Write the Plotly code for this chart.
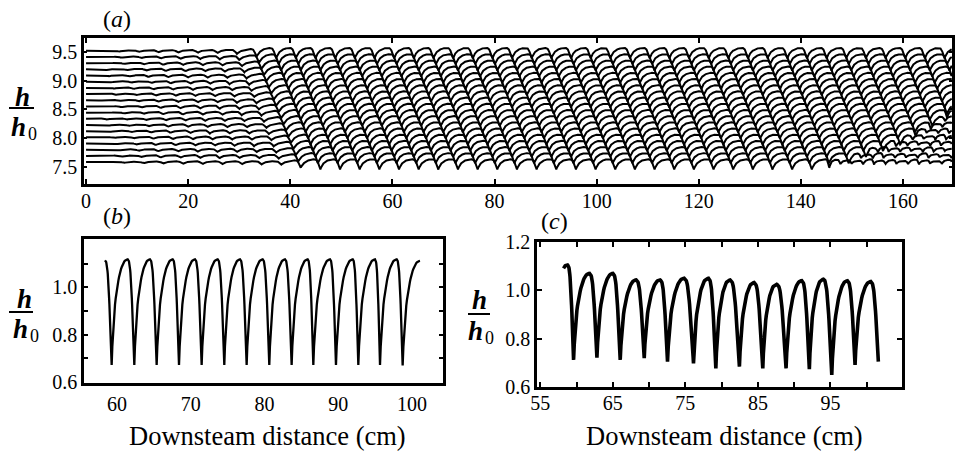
import numpy as np
import plotly.graph_objects as go

W, H = 955, 455

# ---------------- values ----------------
# panel (a): stacked profiles (level of each profile, h/h0 scale)
A_LEVEL = [9.520, 9.413, 9.305, 9.198, 9.090, 8.983, 8.875, 8.768, 8.660, 8.553,
           8.445, 8.338, 8.230, 8.123, 8.015, 7.908, 7.800, 7.693, 7.585]
# x where each profile reaches full-amplitude waves
A_FRONT_X = [35.0, 35.5, 36.0, 36.5, 37.0, 37.5, 38.0, 38.5, 39.0, 39.5,
             40.0, 40.5, 41.0, 41.5, 42.0, 42.5, 43.0, 43.5, 44.0]
# x where the lowest profiles break up (None = no break-up in view)
A_BREAK_X = [None, None, None, None, None, None, None, None, None, None,
             168.0, 166.5, 164.5, 162.0, 160.0, 157.0, 153.0, 150.0, 145.0]
A_TROUGH0 = 2.6          # cm, first trough position of the top profile
A_SHIFT = 0.48           # cm, downstream shift of the wave train per profile
A_WAVELENGTH = 3.85      # cm
A_RIPPLE_X = [0, 4, 12, 22]               # upstream ripple growth (x, cm)
A_RIPPLE_AMP = [0.0, 0.015, 0.035, 0.055]  # crest-to-trough of the ripples
A_BIG_AMP = 0.18         # crest-to-trough of the developed waves
A_BREAK_AMP = 0.075
A_BREAK_WAVELENGTH = 2.2
A_BREAK_MULT = [1.0, 0.55, 1.2, 0.8, 0.45, 1.1, 0.9, 0.6, 1.3, 0.7]

# wave shape: rise trough->crest and fall crest->trough
RISE_T = [0, 0.03, 0.10, 0.20, 0.31, 0.52, 0.73, 0.88, 1.0]
RISE_V = [0, 0.14, 0.36, 0.56, 0.71, 0.88, 0.97, 0.995, 1.0]
FALL_T = [0, 0.15, 0.30, 0.45, 0.60, 0.72, 0.83, 0.92, 1.0]
FALL_V = [1, 0.99, 0.95, 0.85, 0.67, 0.50, 0.32, 0.15, 0]

# panel (b)
B_PEAK_X = [58.37, 61.45, 64.47, 67.55, 70.58, 73.65, 76.68, 79.75, 82.78, 85.85,
            88.88, 91.96, 94.98, 97.92, 101.08]
B_PEAK_Y = [1.114, 1.118, 1.118, 1.118, 1.118, 1.118, 1.118, 1.118, 1.118, 1.118,
            1.118, 1.118, 1.118, 1.118, 1.112]
B_TROUGH_X = [59.28, 62.35, 65.38, 68.41, 71.48, 74.55, 77.58, 80.65, 83.68, 86.62,
              89.69, 92.72, 95.66, 98.73]
B_TROUGH_Y = [0.672, 0.672, 0.672, 0.672, 0.672, 0.672, 0.672, 0.672, 0.672, 0.672,
              0.672, 0.672, 0.672, 0.670]

# panel (c)
C_START = (58.21, 1.091)
C_PEAK_X = [58.76, 61.79, 65.01, 68.22, 71.53, 74.83, 78.18, 81.17, 84.48, 87.60,
            91.05, 94.02, 97.33, 100.55]
C_PEAK_Y = [1.105, 1.070, 1.070, 1.043, 1.043, 1.050, 1.050, 1.043, 1.032, 1.025,
            1.040, 1.046, 1.040, 1.036]
C_TROUGH_X = [59.59, 62.81, 66.02, 69.33, 72.54, 76.12, 79.20, 82.45, 85.67, 88.88,
              92.09, 95.18, 98.39, 101.60]
C_TROUGH_Y = [0.712, 0.721, 0.712, 0.719, 0.705, 0.698, 0.677, 0.684, 0.677, 0.677,
              0.674, 0.650, 0.691, 0.705]

A_XTICKS = [0, 20, 40, 60, 80, 100, 120, 140, 160]
A_YTICKS = [7.5, 8.0, 8.5, 9.0, 9.5]
B_XTICKS = [60, 70, 80, 90, 100]
B_YTICKS = [0.6, 0.8, 1.0]
B_YMINOR = [0.7, 0.9, 1.1]
C_XTICKS = [55, 65, 75, 85, 95, 105]
C_XMINOR = [60, 70, 80, 90, 100]
C_YTICKS = [0.6, 0.8, 1.0, 1.2]
XTITLE = "Downsteam distance (cm)"

# ---------------- helpers ----------------
TPL_PHASE = [0.7 * t for t in RISE_T] + [0.7 + 0.3 * t for t in FALL_T[1:]]
TPL_VALUE = RISE_V + FALL_V[1:]
TPL_MEAN = 0.73


def tpl(frac):
    return np.interp(frac, TPL_PHASE, TPL_VALUE)


def seg(x0, x1, ylo, yhi, T, V):
    t = np.linspace(0, 1, 25)
    v = np.interp(t, T, V)
    return x0 + t * (x1 - x0), ylo + v * (yhi - ylo)


def train(nodes, first_is_peak):
    xs, ys = [], []
    is_peak = first_is_peak
    for (x0, y0), (x1, y1) in zip(nodes[:-1], nodes[1:]):
        if is_peak:
            sx, sy = seg(x0, x1, y1, y0, FALL_T, FALL_V)
        else:
            sx, sy = seg(x0, x1, y0, y1, RISE_T, RISE_V)
        xs.extend(sx.tolist()); ys.extend(sy.tolist())
        is_peak = not is_peak
    return xs, ys


def pxx(x):
    return x / W


def pyy(y):
    return 1 - y / H


FONT = "Liberation Serif"
fig = go.Figure()

# ---------------- panel (a) ----------------
xa = np.arange(0.0, 169.6, 0.05)
ax_all, ay_all = [], []
for k, lev in enumerate(A_LEVEL):
    front = A_FRONT_X[k]
    amp = np.interp(xa, A_RIPPLE_X + [front - 6, front - 3, front],
                    A_RIPPLE_AMP + [0.065, 0.115, A_BIG_AMP])
    lam = np.full_like(xa, A_WAVELENGTH)
    bx = A_BREAK_X[k]
    if bx is not None:
        lam[xa > bx] = A_BREAK_WAVELENGTH
    phase = np.concatenate([[0.0], np.cumsum(np.diff(xa) / lam[1:])])
    phase -= (A_TROUGH0 + A_SHIFT * k) / A_WAVELENGTH
    frac = np.mod(phase, 1.0)
    y = lev + amp * (tpl(frac) - TPL_MEAN)
    if bx is not None:
        cyc = np.floor(phase).astype(int)
        mult = np.array(A_BREAK_MULT)[np.mod(cyc, len(A_BREAK_MULT))]
        yb = lev + A_BREAK_AMP * mult * (tpl(frac) - 0.5)
        w = np.clip((xa - bx) / 2.0, 0, 1)
        y = (1 - w) * y + w * yb
    ax_all.extend(xa.tolist() + [None])
    ay_all.extend(y.tolist() + [None])

fig.add_trace(go.Scatter(x=ax_all, y=ay_all, mode="lines",
                         line=dict(color="black", width=2),
                         xaxis="x", yaxis="y", hoverinfo="skip", showlegend=False))

# ---------------- panel (b) ----------------
b_nodes = []
for i in range(len(B_TROUGH_X)):
    b_nodes.append((B_PEAK_X[i], B_PEAK_Y[i]))
    b_nodes.append((B_TROUGH_X[i], B_TROUGH_Y[i]))
b_nodes.append((B_PEAK_X[-1], B_PEAK_Y[-1]))
bx_, by_ = train(b_nodes, True)
fig.add_trace(go.Scatter(x=bx_, y=by_, mode="lines",
                         line=dict(color="black", width=2.3),
                         xaxis="x2", yaxis="y2", hoverinfo="skip", showlegend=False))

# ---------------- panel (c) ----------------
c_nodes = [C_START]
for i in range(len(C_PEAK_X)):
    c_nodes.append((C_PEAK_X[i], C_PEAK_Y[i]))
    c_nodes.append((C_TROUGH_X[i], C_TROUGH_Y[i]))
cx_, cy_ = train(c_nodes, False)
fig.add_trace(go.Scatter(x=cx_, y=cy_, mode="lines",
                         line=dict(color="black", width=3.6),
                         xaxis="x3", yaxis="y3", hoverinfo="skip", showlegend=False))

tickfont = dict(family=FONT, size=20, color="black")
common = dict(showline=True, linecolor="black", mirror="allticks", showgrid=False,
              zeroline=False, ticks="inside", tickcolor="black", tickfont=tickfont,
              automargin=False, linewidth=2.5, tickwidth=1.5)

fig.update_layout(
    width=W, height=H, autosize=False,
    margin=dict(l=0, r=0, t=0, b=0, pad=0, autoexpand=False),
    paper_bgcolor="white", plot_bgcolor="white",
    font=dict(family=FONT, color="black", size=20),
    xaxis=dict(domain=[pxx(84), pxx(952)], range=[-0.4, 169.6], anchor="y",
               tickvals=A_XTICKS, ticklen=5, ticklabelstandoff=-3, **common),
    yaxis=dict(domain=[pyy(184), pyy(38)], range=[7.204, 9.743], anchor="x",
               tickvals=A_YTICKS, ticktext=["7.5", "8.0", "8.5", "9.0", "9.5"],
               ticklen=3, **common),
    xaxis2=dict(domain=[pxx(84), pxx(443)], range=[55.53, 104.2], anchor="y2",
                tickvals=B_XTICKS, ticklen=0, ticklabelstandoff=1, **common),
    yaxis2=dict(domain=[pyy(383), pyy(239)], range=[0.596, 1.204], anchor="x2",
                tickvals=B_YTICKS, ticktext=["0.6", "0.8", "1.0"], ticklen=4,
                minor=dict(tickvals=B_YMINOR, ticks="inside", ticklen=4,
                           tickcolor="black", tickwidth=1.5, showgrid=False),
                **common),
    xaxis3=dict(domain=[pxx(537), pxx(902)], range=[54.55, 104.86], anchor="y3",
                tickvals=C_XTICKS, ticklen=5, ticklabelstandoff=-4,
                minor=dict(tickvals=C_XMINOR, ticks="inside", ticklen=5,
                           tickcolor="black", tickwidth=1.5, showgrid=False),
                **common),
    yaxis3=dict(domain=[pyy(387), pyy(242)], range=[0.6, 1.2], anchor="x3",
                tickvals=C_YTICKS, ticktext=["0.6", "0.8", "1.0", "1.2"],
                ticklen=5, **common),
)

ann = []
shapes = []


def add_text(txt, cx, cy, size, style="normal", weight="normal"):
    ann.append(dict(x=pxx(cx), y=pyy(cy), xref="paper", yref="paper", text=txt,
                    showarrow=False, borderpad=0,
                    font=dict(family=FONT, size=size, color="black",
                              style=style, weight=weight),
                    xanchor="center", yanchor="middle"))


def frac_label(cx, yh, ybar, yh0, x0, x1):
    add_text("h", cx, yh, 27, "italic", "bold")
    add_text("h", cx - 4, yh0, 27, "italic", "bold")
    add_text("0", cx + 10, yh0 + 7, 18)
    shapes.append(dict(type="line", xref="paper", yref="paper",
                       x0=pxx(x0), x1=pxx(x1), y0=pyy(ybar), y1=pyy(ybar),
                       line=dict(color="black", width=2)))


frac_label(22, 97, 108, 127, 9, 34)
frac_label(24, 299, 312, 329, 9, 33)
frac_label(479, 300, 314, 331, 468, 490)

for txt, cx, cy in [("(<i>a</i>)", 117, 19), ("(<i>b</i>)", 117, 216), ("(<i>c</i>)", 554, 221)]:
    add_text(txt, cx, cy, 24)

for cx in (267, 724):
    add_text(XTITLE, cx, 436, 26.5)

fig.update_layout(annotations=ann, shapes=shapes)
fig.write_html("out.html", config={"displayModeBar": False},
               post_script="document.body.style.margin='0';document.body.style.padding='0';")
